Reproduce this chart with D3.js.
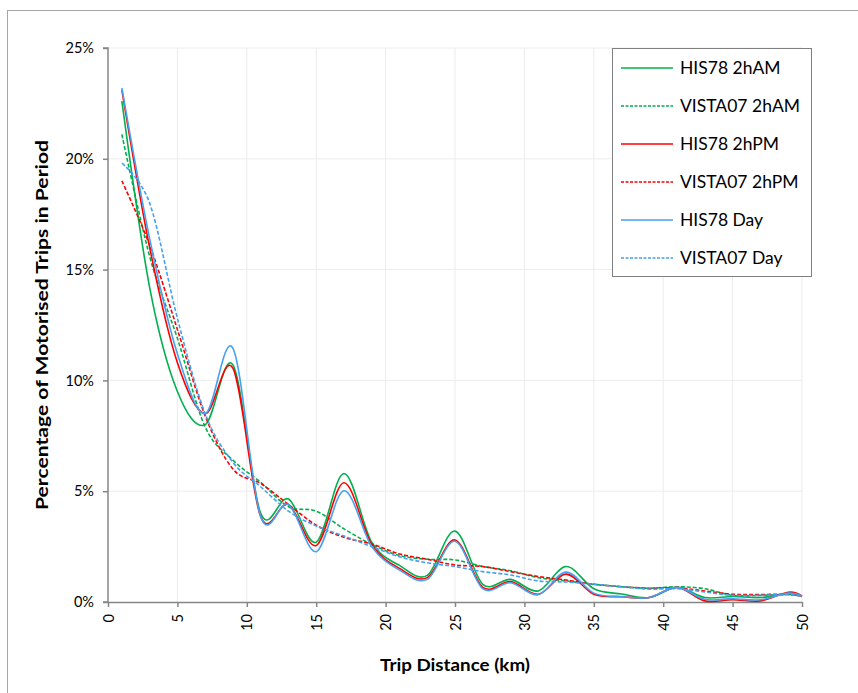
<!DOCTYPE html>
<html>
<head>
<meta charset="utf-8">
<script src="https://cdn.jsdelivr.net/npm/d3@7"></script>
<style>
  body { margin: 0; background: #fff; }
  text { font-family: Lato, "Open Sans", sans-serif; }
</style>
</head>
<body>
<div class="chart"></div>
<script>
//Data - trip distance (km) and percentage of trips in period
const km = [1, 3, 5, 7, 9, 11, 13, 15, 17, 19, 21, 23, 25, 27, 29, 31, 33, 35, 37, 39, 41, 43, 45, 47, 49, 50];

const his78AM    = [22.6, 14.2, 9.5, 8.0, 10.7, 4.0, 4.65, 2.7, 5.8, 2.7, 1.65, 1.2, 3.2, 0.8, 1.02, 0.5, 1.6, 0.6, 0.36, 0.2, 0.66, 0.2, 0.25, 0.2, 0.36, 0.25];
const vista07AM  = [21.1, 15.6, 11.9, 7.9, 6.4, 5.4, 4.3, 4.1, 3.3, 2.6, 2.1, 1.93, 1.9, 1.6, 1.41, 1.1, 0.95, 0.8, 0.69, 0.62, 0.69, 0.6, 0.3, 0.3, 0.34, 0.25];
const his78PM    = [23.1, 16.0, 10.8, 8.5, 10.55, 3.85, 4.4, 2.55, 5.38, 2.6, 1.52, 1.1, 2.8, 0.66, 0.92, 0.35, 1.26, 0.35, 0.24, 0.2, 0.66, 0.05, 0.1, 0.05, 0.44, 0.27];
const vista07PM  = [19.0, 16.1, 12.3, 8.4, 6.0, 5.35, 4.4, 3.47, 2.92, 2.62, 2.17, 1.93, 1.67, 1.6, 1.37, 1.15, 0.99, 0.8, 0.69, 0.62, 0.64, 0.5, 0.35, 0.34, 0.34, 0.25];
const his78Day   = [23.2, 16.4, 11.2, 8.5, 11.45, 3.85, 4.4, 2.27, 5.02, 2.5, 1.44, 1.02, 2.74, 0.6, 0.87, 0.33, 1.35, 0.4, 0.24, 0.2, 0.66, 0.12, 0.15, 0.1, 0.4, 0.27];
const vista07Day = [19.8, 18.0, 12.8, 8.5, 6.3, 5.2, 4.1, 3.43, 2.98, 2.5, 2.04, 1.77, 1.6, 1.37, 1.22, 0.95, 0.9, 0.8, 0.69, 0.58, 0.6, 0.45, 0.3, 0.3, 0.34, 0.25];

const seriesNames = ['HIS78 2hAM', 'VISTA07 2hAM', 'HIS78 2hPM', 'VISTA07 2hPM', 'HIS78 Day', 'VISTA07 Day'];
const seriesValues = [his78AM, vista07AM, his78PM, vista07PM, his78Day, vista07Day];
const seriesColors = ['#00b050', '#00b050', '#ff0000', '#ff0000', '#45a1f2', '#45a1f2'];
const seriesDashed = [false, true, false, true, false, true];

const xTicks = [0, 5, 10, 15, 20, 25, 30, 35, 40, 45, 50];
const yTicks = [0, 5, 10, 15, 20, 25];

//Set SVG
const width = 858;
const height = 693;
const svg = d3.select('.chart')
	.append('svg')
	.attr('width', width)
	.attr('height', height);

//Chart border (only top/left fall inside the picture)
svg.append('rect')
	.attr('x', 7.5)
	.attr('y', 10.5)
	.attr('width', 900)
	.attr('height', 900)
	.attr('fill', 'none')
	.attr('stroke', '#a6a6a6');

//Scales
const x = d3.scaleLinear().domain([0, 50]).range([108, 802]);
const y = d3.scaleLinear().domain([0, 25]).range([602, 48]);

//Gridlines
svg.append('g').selectAll('line')
	.data(xTicks.slice(1))
	.enter()
	.append('line')
	.attr('x1', d => x(d)).attr('x2', d => x(d))
	.attr('y1', y(0)).attr('y2', y(25))
	.attr('stroke', '#ececec');

svg.append('g').selectAll('line')
	.data(yTicks.slice(1))
	.enter()
	.append('line')
	.attr('x1', x(0)).attr('x2', x(50))
	.attr('y1', d => y(d)).attr('y2', d => y(d))
	.attr('stroke', '#ececec');

//Axes
const yAxis = svg.append('g')
	.attr('transform', `translate(${x(0)},0)`)
	.call(d3.axisLeft(y).tickValues(yTicks).tickSize(5).tickPadding(9).tickFormat(d => d + '%'));

const xAxis = svg.append('g')
	.attr('transform', `translate(0,${y(0)})`)
	.call(d3.axisBottom(x).tickValues(xTicks).tickSize(5).tickSizeOuter(0));

[yAxis, xAxis].forEach(a => {
	a.select('.domain').attr('stroke', '#868686').attr('stroke-width', 1.5);
	a.selectAll('.tick line').attr('stroke', '#868686').attr('stroke-width', 1.5);
	a.selectAll('text').attr('font-size', '14.5px').attr('fill', '#000').style('font-family', 'Lato');
});
yAxis.select('.domain').attr('d', `M-5,${y(25)}H0V${y(0)}H-5`);

xAxis.selectAll('text')
	.attr('transform', 'rotate(-90)')
	.attr('x', -12)
	.attr('y', 0)
	.attr('dy', '0.35em')
	.attr('text-anchor', 'end');

//Axis titles
svg.append('text')
	.attr('transform', `translate(48,${(y(0) + y(25)) / 2}) rotate(-90)`)
	.attr('text-anchor', 'middle')
	.attr('font-size', '17px')
	.attr('font-weight', 'bold')
	.attr('textLength', 370)
	.attr('lengthAdjust', 'spacingAndGlyphs')
	.text('Percentage of Motorised Trips in Period');

svg.append('text')
	.attr('x', (x(0) + x(50)) / 2)
	.attr('y', 671)
	.attr('text-anchor', 'middle')
	.attr('font-size', '17px')
	.attr('font-weight', 'bold')
	.attr('textLength', 150)
	.attr('lengthAdjust', 'spacingAndGlyphs')
	.text('Trip Distance (km)');

//Lines
const line = d3.line()
	.x((d, i) => x(km[i]))
	.y(d => y(d))
	.curve(d3.curveCardinal.tension(0));

svg.append('g').selectAll('path')
	.data(seriesValues)
	.enter()
	.append('path')
	.attr('d', d => line(d))
	.attr('fill', 'none')
	.attr('stroke', (d, i) => seriesColors[i])
	.attr('stroke-width', 1.6)
	.attr('stroke-dasharray', (d, i) => seriesDashed[i] ? '4,2' : null);

//Legend
const legend = svg.append('g');
legend.append('rect')
	.attr('x', 612.5).attr('y', 48.5)
	.attr('width', 199).attr('height', 228)
	.attr('fill', '#fff')
	.attr('stroke', '#7f7f7f');

const entries = legend.selectAll('g.entry')
	.data(seriesNames)
	.enter()
	.append('g')
	.attr('class', 'entry')
	.attr('transform', (d, i) => `translate(0,${68 + i * 38})`);

entries.append('line')
	.attr('x1', 621).attr('x2', 673)
	.attr('stroke', (d, i) => seriesColors[i])
	.attr('stroke-width', 1.6)
	.attr('stroke-dasharray', (d, i) => seriesDashed[i] ? '3,1.5' : null);

entries.append('text')
	.attr('x', 680)
	.attr('dy', '0.35em')
	.attr('font-size', '17.5px')
	.text(d => d);
</script>
</body>
</html>
